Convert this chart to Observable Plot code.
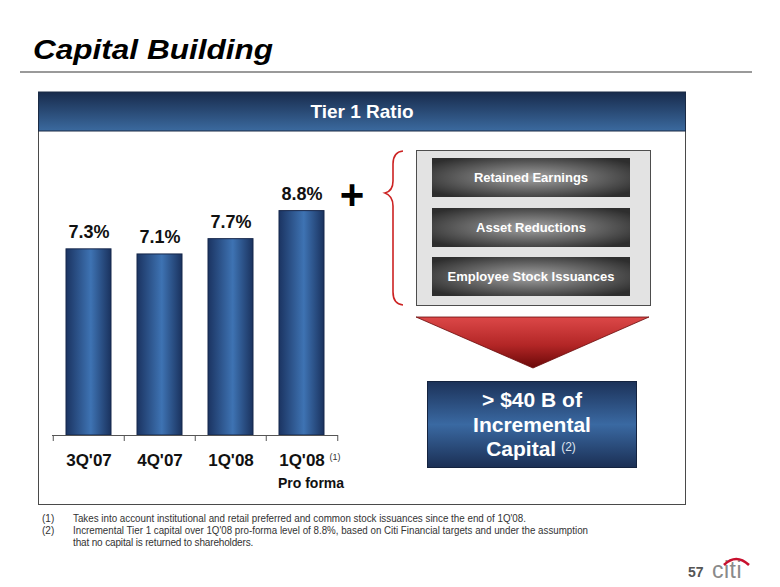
<!DOCTYPE html>
<html>
<head>
<meta charset="utf-8">
<script src="https://cdn.jsdelivr.net/npm/d3@7"></script>
<script src="https://cdn.jsdelivr.net/npm/@observablehq/plot@0.6"></script>
<style>
  body { margin: 0; background: #fff; font-family: "Liberation Sans", Arial, sans-serif; }
  #page { position: relative; width: 780px; height: 587px; overflow: hidden; background: #fff; }
  #deco { position: absolute; left: 0; top: 0; }
  #chart { position: absolute; left: 40px; top: 140px; }
</style>
</head>
<body>
<div id="page">
<svg id="deco" width="780" height="587" viewBox="0 0 780 587" font-family="Liberation Sans, Arial, sans-serif">
  <defs>
    <linearGradient id="hdrGrad" x1="0" y1="0" x2="0" y2="1">
      <stop offset="0" stop-color="#182b4c"/>
      <stop offset="1" stop-color="#3b6a9f"/>
    </linearGradient>
    <radialGradient id="greyGrad" cx="0.5" cy="0.5" r="0.62">
      <stop offset="0" stop-color="#a2a2a2"/>
      <stop offset="1" stop-color="#2e2e2e"/>
    </radialGradient>
    <linearGradient id="triGrad" x1="0" y1="0" x2="0" y2="1">
      <stop offset="0" stop-color="#dc4848"/>
      <stop offset="0.55" stop-color="#b32626"/>
      <stop offset="1" stop-color="#6a0808"/>
    </linearGradient>
    <linearGradient id="boxGrad" x1="0" y1="0" x2="0" y2="1">
      <stop offset="0" stop-color="#1c3259"/>
      <stop offset="0.5" stop-color="#3a69a2"/>
      <stop offset="1" stop-color="#1b2f54"/>
    </linearGradient>
  </defs>
  <!-- title -->
  <text x="33" y="59" font-size="28" font-weight="bold" font-style="italic" fill="#000" textLength="240" lengthAdjust="spacingAndGlyphs">Capital Building</text>
  <line x1="20" x2="752" y1="72" y2="72" stroke="#9a9a9a" stroke-width="2"/>
  <!-- panel -->
  <rect x="38.5" y="92.5" width="647" height="412" fill="#fff" stroke="#4a4a4a" stroke-width="1"/>
  <rect x="38.5" y="92" width="647" height="39" fill="url(#hdrGrad)" stroke="#1a2a44" stroke-width="1"/>
  <text x="362" y="118" text-anchor="middle" font-size="19" font-weight="bold" fill="#fff">Tier 1 Ratio</text>
  <!-- plus -->
  <text x="352" y="209" text-anchor="middle" font-size="42" font-weight="bold" fill="#000">+</text>
  <!-- brace -->
  <path d="M403,151 Q393,152 393,164 L393,181 Q393,191 385,193 Q393,196 393,206 L393,292 Q393,304 403,305" fill="none" stroke="#cc2222" stroke-width="1.6"/>
  <!-- grey box -->
  <rect x="416.5" y="150.5" width="234" height="155" fill="#e3e3e3" stroke="#4d4d4d" stroke-width="1"/>
  <rect x="432" y="158" width="198" height="39" fill="url(#greyGrad)"/>
  <rect x="432" y="208" width="198" height="39" fill="url(#greyGrad)"/>
  <rect x="432" y="257" width="198" height="39" fill="url(#greyGrad)"/>
  <text x="531" y="182" text-anchor="middle" font-size="13" font-weight="bold" fill="#fff">Retained Earnings</text>
  <text x="531" y="232" text-anchor="middle" font-size="13" font-weight="bold" fill="#fff">Asset Reductions</text>
  <text x="531" y="281" text-anchor="middle" font-size="13" font-weight="bold" fill="#fff">Employee Stock Issuances</text>
  <!-- arrow -->
  <polygon points="416,317 649,317 533,368" fill="url(#triGrad)" stroke="#6a0a0a" stroke-width="0.8"/>
  <!-- blue box -->
  <rect x="427.5" y="381.5" width="209" height="86" fill="url(#boxGrad)" stroke="#14233f" stroke-width="1"/>
  <text x="532" y="407" text-anchor="middle" font-size="21" font-weight="bold" fill="#fff">&gt; $40 B of</text>
  <text x="532" y="432" text-anchor="middle" font-size="21" font-weight="bold" fill="#fff">Incremental</text>
  <text x="531" y="456" text-anchor="middle" font-size="21" font-weight="bold" fill="#fff">Capital<tspan dx="5" dy="-5" font-size="12" font-weight="normal" fill="#dde4ee">(2)</tspan></text>
  <!-- footnotes -->
  <g font-size="10" fill="#333">
    <text x="42" y="522">(1)</text>
    <text x="73" y="522" textLength="453" lengthAdjust="spacingAndGlyphs">Takes into account institutional and retail preferred and common stock issuances since the end of 1Q'08.</text>
    <text x="42" y="534">(2)</text>
    <text x="73" y="534" textLength="515" lengthAdjust="spacingAndGlyphs">Incremental Tier 1 capital over 1Q'08 pro-forma level of 8.8%, based on Citi Financial targets and under the assumption</text>
    <text x="73" y="546" letter-spacing="-0.15">that no capital is returned to shareholders.</text>
  </g>
  <!-- page number and logo -->
  <text x="688" y="577" font-size="14" font-weight="bold" fill="#555">57</text>
  <text x="712" y="578" font-size="23" fill="#8a8a8a" letter-spacing="0.5">citi</text>
  <path d="M724,565 Q736,553 749,565" fill="none" stroke="#c8102e" stroke-width="2.6"/>
</svg>
<div id="chart"></div>
</div>
<script>
// ---- data ----
const quarters = ["3Q'07", "4Q'07", "1Q'08", "1Q'08"];
const quarterNotes = ["", "", "", "(1)"];
const quarterSubLabels = ["", "", "", "Pro forma"];
const tier1Ratio = [7.3, 7.1, 7.7, 8.8];
const valueLabels = ["7.3%", "7.1%", "7.7%", "8.8%"];

const rows = quarters.map((q, i) => ({
  key: i, quarter: q, value: tier1Ratio[i], label: valueLabels[i],
  note: quarterNotes[i], sub: quarterSubLabels[i]
}));
const keys = rows.map(d => d.key);

const W = 310, H = 360, ML = 12, MR = 12, MT = 40, MB = 65;
const band = d3.scaleBand().domain(keys).range([ML, W - MR]).paddingInner(0.36).paddingOuter(0.18);
const step = band.step();
const font = "Liberation Sans, Arial, sans-serif";

const chart = Plot.plot({
  width: W, height: H,
  marginLeft: ML, marginRight: MR, marginTop: MT, marginBottom: MB,
  style: { background: "transparent", fontFamily: font, overflow: "visible" },
  x: { type: "band", domain: keys, paddingInner: 0.36, paddingOuter: 0.18, axis: null },
  y: { domain: [0, 10], axis: null },
  marks: [
    Plot.barY(rows, { x: "key", y: "value", fill: "url(#barGrad)", stroke: "#15264a", strokeWidth: 1 }),
    Plot.ruleY([0], { stroke: "#555", strokeWidth: 1 }),
    Plot.ruleX(rows, { x: "key", y1: 0, y2: 0, dx: -step / 2, insetBottom: -6, stroke: "#555" }),
    Plot.ruleX(rows.slice(-1), { x: "key", y1: 0, y2: 0, dx: step / 2, insetBottom: -6, stroke: "#555" }),
    Plot.text(rows, { x: "key", y: "value", text: "label", dy: -17, fontSize: 18, fontWeight: "bold", fill: "#111", fontFamily: font }),
    Plot.text(rows, { x: "key", y: () => 0, text: "quarter", dy: 25, fontSize: 17, fontWeight: "bold", fill: "#111", fontFamily: font }),
    Plot.text(rows.filter(d => d.note), { x: "key", y: () => 0, text: "note", dx: 33, dy: 22, fontSize: 9, fill: "#333", fontFamily: font }),
    Plot.text(rows.filter(d => d.sub), { x: "key", y: () => 0, text: "sub", dx: 9, dy: 48, fontSize: 14, fontWeight: "bold", fill: "#111", fontFamily: font })
  ]
});

const defs = d3.select(chart).insert("defs", ":first-child");
const g = defs.append("linearGradient").attr("id", "barGrad").attr("x1", 0).attr("x2", 1).attr("y1", 0).attr("y2", 0);
g.append("stop").attr("offset", 0).attr("stop-color", "#1b3462");
g.append("stop").attr("offset", 0.55).attr("stop-color", "#3e73b3");
g.append("stop").attr("offset", 1).attr("stop-color", "#1a325e");

document.getElementById("chart").appendChild(chart);
</script>
</body>
</html>
